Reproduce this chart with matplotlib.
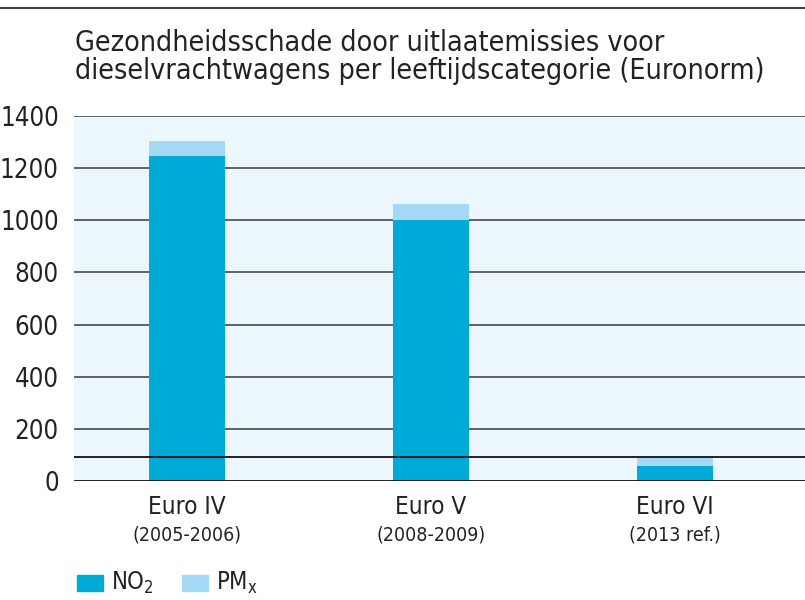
import matplotlib.pyplot as plt
from matplotlib.patches import Rectangle

# data
categories = ["Euro IV", "Euro V", "Euro VI"]
periods = ["(2005-2006)", "(2008-2009)", "(2013 ref.)"]
no2 = [1246, 1000, 58]
pmx = [58, 62, 32]
ref_level = 92
yticks = [0, 200, 400, 600, 800, 1000, 1200, 1400]

plt.rcParams['font.family'] = ['DejaVu Sans']
plt.rcParams['font.stretch'] = 'condensed'

fig = plt.figure(figsize=(8.05, 6), dpi=100)
ax = fig.add_axes([74 / 805, 1 - 481 / 600, 731 / 805, 365 / 600])
ax.set_facecolor('#ecf7fd')

x = list(range(len(categories)))
ax.bar(x, no2, width=0.31, color='#00aad6', zorder=2)
ax.bar(x, pmx, width=0.31, bottom=no2, color='#a4d9f6', zorder=2)

for t in yticks[1:]:
    ax.axhline(t, color='#3a3a3a', lw=1.1, zorder=1)
ax.axhline(0, color='#111111', lw=1.3, zorder=3)
ax.axhline(ref_level, color='#111111', lw=1.3, zorder=3)

ax.set_xlim(-0.463, 2.533)
ax.set_ylim(0, 1400)
ax.set_yticks(yticks)
ax.set_yticklabels([str(t) for t in yticks], fontsize=18.5, color='#222222')
ax.set_xticks(x)
ax.set_xticklabels([])
ax.tick_params(length=0, pad=11)
for s in ax.spines.values():
    s.set_visible(False)

for i in x:
    ax.text(i, -52, categories[i], ha='center', va='top', fontsize=17.5, color='#222222')
    ax.text(i, -170, periods[i], ha='center', va='top', fontsize=14, color='#222222')

# thin rule at the top of the figure
fig.add_artist(plt.Line2D([0, 1], [1 - 8 / 600] * 2, color='#444444', lw=1.5))

fig.text(75 / 805, 1 - 57 / 600, "Gezondheidsschade door uitlaatemissies voor\n"
         "dieselvrachtwagens per leeftijdscategorie (Euronorm)",
         ha='left', va='center', fontsize=20.5, color='#222222', linespacing=1.0)

# legend
fig.add_artist(Rectangle((77 / 805, 1 - 591 / 600), 26 / 805, 16 / 600,
                         color='#00aad6', transform=fig.transFigure))
fig.text(111 / 805, 1 - 583 / 600, r"NO$_\mathregular{2}$", ha='left', va='center',
         fontsize=17, color='#222222')
fig.add_artist(Rectangle((182 / 805, 1 - 591 / 600), 26 / 805, 16 / 600,
                         color='#a4d9f6', transform=fig.transFigure))
fig.text(216 / 805, 1 - 583 / 600, r"PM$_\mathregular{x}$", ha='left', va='center',
         fontsize=17, color='#222222')

fig.savefig('out.png', dpi=100)
